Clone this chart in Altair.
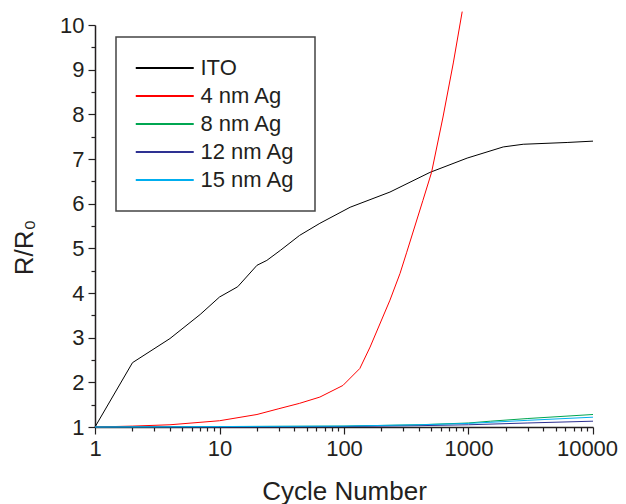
import altair as alt
import pandas as pd

series = ["ITO", "4 nm Ag", "8 nm Ag", "12 nm Ag", "15 nm Ag"]
colors = ["#000000", "#FF0000", "#00A651", "#2E3192", "#00AEEF"]

ito_x = [1, 2, 4, 7, 10, 14, 20, 24, 31, 44, 64, 112, 234, 490, 975, 1900, 2750, 6200, 10000]
ito_y = [1.0, 2.44, 2.98, 3.52, 3.91, 4.14, 4.62, 4.73, 4.96, 5.29, 5.56, 5.92, 6.26, 6.70, 7.02, 7.27, 7.33, 7.37, 7.40]

ag4_x = [1, 2, 4, 10, 20, 30, 44, 64, 98, 134, 162, 234, 282, 318, 430, 505, 624, 755, 890]
ag4_y = [1.0, 1.02, 1.05, 1.14, 1.28, 1.41, 1.53, 1.67, 1.93, 2.31, 2.79, 3.84, 4.44, 4.90, 6.07, 6.70, 7.94, 9.15, 10.3]

ag8_x = [1, 10, 100, 400, 1000, 1500, 3000, 10000]
ag8_y = [1.0, 1.01, 1.02, 1.05, 1.09, 1.13, 1.19, 1.28]

ag12_x = [1, 10, 100, 400, 1000, 3000, 10000]
ag12_y = [1.0, 1.0, 1.01, 1.03, 1.05, 1.09, 1.13]

ag15_x = [1, 10, 100, 400, 1000, 3000, 10000]
ag15_y = [1.0, 1.01, 1.02, 1.05, 1.08, 1.15, 1.22]

x_major = [1, 10, 100, 1000, 10000]
x_minor = [m * d for d in [1, 10, 100, 1000] for m in range(2, 10)]
y_major = [1, 2, 3, 4, 5, 6, 7, 8, 9, 10]
y_minor = [v + 0.5 for v in range(1, 10)]

rows = []
for name, xs, ys in zip(series, [ito_x, ag4_x, ag8_x, ag12_x, ag15_x],
                        [ito_y, ag4_y, ag8_y, ag12_y, ag15_y]):
    for i, (a, b) in enumerate(zip(xs, ys)):
        rows.append({"series": name, "x": a, "y": b, "order": i})
df = pd.DataFrame(rows)

FONT = "Liberation Sans"
TXT = "#231F20"

xscale = alt.Scale(type="log", domain=[1, 10000], nice=False)
yscale = alt.Scale(domain=[1, 10], nice=False, zero=False)

lines = alt.Chart(df).mark_line(strokeWidth=1, clip=False).encode(
    x=alt.X("x:Q", scale=xscale,
            axis=alt.Axis(values=x_major, format="d", title="Cycle Number",
                          orient="bottom", grid=False, tickSize=7,
                          labelFontSize=22, labelPadding=4, titleFontSize=26,
                          titleFontWeight="normal", titleY=72,
                          titleBaseline="alphabetic", labelFlush=False,
                          labelOffset={"condition": {"test": "datum.value == 10000", "value": -6}, "value": 0})),
    y=alt.Y("y:Q", scale=yscale,
            axis=alt.Axis(values=y_major, title="R/R₀", orient="left",
                          grid=False, tickSize=7, labelFontSize=22,
                          labelPadding=4, titleFontSize=26,
                          titleFontWeight="normal", titleX=-58, titleY=222,
                          titleAlign="center", titleAngle=270)),
    color=alt.Color("series:N", scale=alt.Scale(domain=series, range=colors),
                    legend=alt.Legend(title=None, orient="none", legendX=21,
                                      legendY=12, symbolType="M-1.55,0H6.45",
                                      symbolSize=210, symbolStrokeWidth=2,
                                      labelFontSize=22, labelFont=FONT,
                                      labelColor=TXT, padding=20, rowPadding=6,
                                      strokeColor="#444444", labelOffset=42.5)),
    order="order:Q",
)

minor = alt.Chart(df).mark_point(opacity=0).encode(
    x=alt.X("x:Q", scale=xscale,
            axis=alt.Axis(values=x_minor, labels=False, domain=False,
                          title=None, orient="bottom", grid=False, tickSize=4)),
    y=alt.Y("y:Q", scale=yscale,
            axis=alt.Axis(values=y_minor, labels=False, domain=False,
                          title=None, orient="left", grid=False, tickSize=4)),
)

chart = alt.layer(lines, minor).resolve_axis(
    x="independent", y="independent"
).properties(
    width=498, height=402,
    autosize=alt.AutoSizeParams(type="none"),
    padding={"left": 87, "top": 17, "right": 25, "bottom": 77},
).configure_view(stroke=None).configure_axis(
    domainColor=TXT, domainWidth=1.5, tickColor=TXT, tickWidth=1.2,
    labelFont=FONT, titleFont=FONT, labelColor=TXT, titleColor=TXT,
).configure_legend(strokeWidth=1.5)

chart.save("out.html", embed_options={"renderer": "svg", "actions": False})
